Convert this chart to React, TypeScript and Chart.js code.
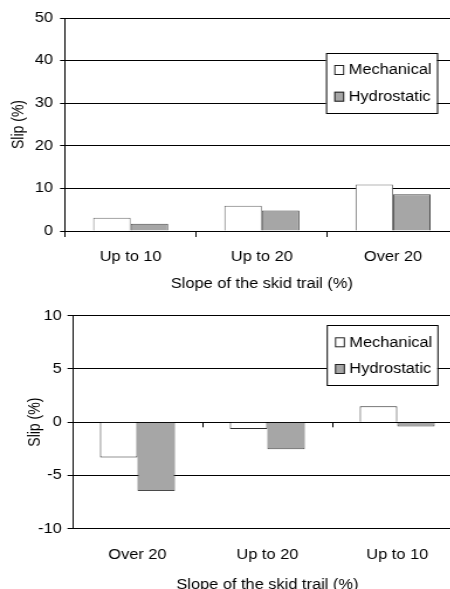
import React, { useEffect, useRef } from "react";
import { Chart, registerables } from "chart.js";

Chart.register(...registerables);

const FONT = "'Liberation Sans', Arial, sans-serif";
const SX = 1.17;

const seriesNames = ["Mechanical", "Hydrostatic"];
const topCategories = ["Up to 10", "Up to 20", "Over 20"];
const topMechanical = [3.12, 5.93, 10.94];
const topHydrostatic = [1.72, 4.84, 8.6];
const bottomCategories = ["Over 20", "Up to 20", "Up to 10"];
const bottomMechanical = [-3.32, -0.63, 1.49];
const bottomHydrostatic = [-6.46, -2.53, -0.41];
const xTitle = "Slope of the skid trail (%)";
const yTitle = "Slip (%)";

const boxLegend = {
  id: "boxLegend",
  afterDraw(chart: any, _args: any, opts: any) {
    const { ctx } = chart;
    ctx.save();
    ctx.fillStyle = "#fff";
    ctx.fillRect(opts.x, opts.y, opts.w, opts.h);
    ctx.strokeStyle = "#000";
    ctx.lineWidth = 1;
    ctx.strokeRect(opts.x + 0.5, opts.y + 0.5, opts.w, opts.h);
    ctx.font = `14px ${FONT}`;
    ctx.textBaseline = "middle";
    ctx.textAlign = "left";
    chart.data.datasets.forEach((ds: any, i: number) => {
      const cy = opts.y + opts.firstRow + i * opts.rowGap;
      const mx = opts.x + opts.markerX;
      ctx.fillStyle = ds.backgroundColor;
      ctx.fillRect(mx, cy - opts.markerH / 2, opts.markerW, opts.markerH);
      ctx.strokeStyle = "#222";
      ctx.strokeRect(mx + 0.5, cy - opts.markerH / 2 + 0.5, opts.markerW - 1, opts.markerH - 1);
      ctx.fillStyle = "#000";
      ctx.fillText(ds.label, opts.x + opts.textX, cy + 0.5);
    });
    ctx.restore();
  },
};

const tickFont = { family: FONT, size: 14 };

function topConfig(): any {
  return {
    type: "bar",
    data: {
      labels: topCategories,
      datasets: [
        { label: seriesNames[0], data: topMechanical, backgroundColor: "#ffffff", borderColor: "#6e6e6e", borderWidth: 1 },
        { label: seriesNames[1], data: topHydrostatic, backgroundColor: "#a6a6a6", borderColor: "#4a4a4a", borderWidth: 1 },
      ],
    },
    plugins: [boxLegend],
    options: {
      responsive: false,
      animation: false,
      layout: { padding: { top: 18, left: 0, right: 0, bottom: 0 } },
      datasets: { bar: { categoryPercentage: 0.572, barPercentage: 1 } },
      plugins: {
        legend: { display: false },
        tooltip: { enabled: false },
        boxLegend: { x: 278.6, y: 53, w: 94.9, h: 60, firstRow: 17, rowGap: 26.7, markerX: 7.1, markerW: 8.5, markerH: 10, textX: 19.4 },
      },
      scales: {
        x: {
          grid: { display: true, drawOnChartArea: false, drawTicks: true, tickLength: 6, color: "#000", offset: true },
          border: { display: true, color: "#000" },
          ticks: { padding: 11.6, color: "#000", font: tickFont, maxRotation: 0, autoSkip: false },
          title: { display: true, text: xTitle, color: "#000", font: tickFont, padding: { top: 0, bottom: 2.6 } },
          afterFit: (s: any) => { s.height = 64; },
        },
        y: {
          min: 0,
          max: 50,
          ticks: { stepSize: 10, padding: 6, color: "#000", font: tickFont },
          grid: { color: "#000", tickLength: 4.3 },
          border: { display: true, color: "#000" },
          title: { display: true, text: yTitle, color: "#000", font: tickFont, padding: { top: 7.6, bottom: 0 } },
          afterFit: (s: any) => { s.width = 55.6; },
        },
      },
    },
  };
}

function bottomConfig(): any {
  return {
    type: "bar",
    data: {
      labels: bottomCategories,
      datasets: [
        { label: seriesNames[0], data: bottomMechanical, backgroundColor: "#ffffff", borderColor: "#2a2a2a", borderWidth: 1 },
        { label: seriesNames[1], data: bottomHydrostatic, backgroundColor: "#a6a6a6", borderColor: "#4a4a4a", borderWidth: 1 },
      ],
    },
    plugins: [boxLegend],
    options: {
      responsive: false,
      animation: false,
      layout: { padding: { top: 20.7, left: 0, right: 0, bottom: 0 } },
      datasets: { bar: { categoryPercentage: 0.577, barPercentage: 1 } },
      plugins: {
        legend: { display: false },
        tooltip: { enabled: false },
        boxLegend: { x: 279.2, y: 30, w: 94.6, h: 60, firstRow: 17.3, rowGap: 26.7, markerX: 7.1, markerW: 8.5, markerH: 10, textX: 19.4 },
      },
      scales: {
        x: {
          position: "bottom",
          grid: { display: false, drawOnChartArea: false, drawTicks: false },
          border: { display: false },
          ticks: { padding: 17.6, color: "#000", font: tickFont, maxRotation: 0, autoSkip: false },
          title: { display: true, text: xTitle, color: "#000", font: tickFont, padding: { top: 0, bottom: 1.6 } },
          afterFit: (s: any) => { s.height = 66.3; },
        },
        x2: {
          type: "category",
          position: { y: 0 },
          offset: true,
          grid: { display: true, offset: true, drawOnChartArea: false, drawTicks: true, tickLength: 4.3, color: "#000" },
          border: { display: true, color: "#000" },
          ticks: { display: false },
        },
        y: {
          min: -10,
          max: 10,
          ticks: { stepSize: 5, padding: 5, color: "#000", font: tickFont },
          grid: { color: "#000", tickLength: 4.3 },
          border: { display: true, color: "#000" },
          title: { display: true, text: yTitle, color: "#000", font: tickFont, padding: { top: 22.1, bottom: 0 } },
          afterFit: (s: any) => { s.width = 62; },
        },
      },
    },
  };
}

function ChartCanvas({ width, height, make }: { width: number; height: number; make: () => any }) {
  const ref = useRef<HTMLCanvasElement | null>(null);
  useEffect(() => {
    if (!ref.current) return;
    const chart = new Chart(ref.current, make());
    return () => chart.destroy();
  }, []);
  return <canvas ref={ref} width={width} height={height} style={{ display: "block" }} />;
}

export default function App() {
  return (
    <div style={{ position: "fixed", left: 0, top: 0, width: 450, height: 589, overflow: "hidden", background: "#fff" }}>
      <div style={{ position: "absolute", left: 0, top: 0, transform: `scaleX(${SX})`, transformOrigin: "0 0" }}>
        <ChartCanvas width={392} height={295} make={topConfig} />
      </div>
      <div style={{ position: "absolute", left: 0, top: 295, transform: `scaleX(${SX})`, transformOrigin: "0 0" }}>
        <ChartCanvas width={395} height={300} make={bottomConfig} />
      </div>
    </div>
  );
}
